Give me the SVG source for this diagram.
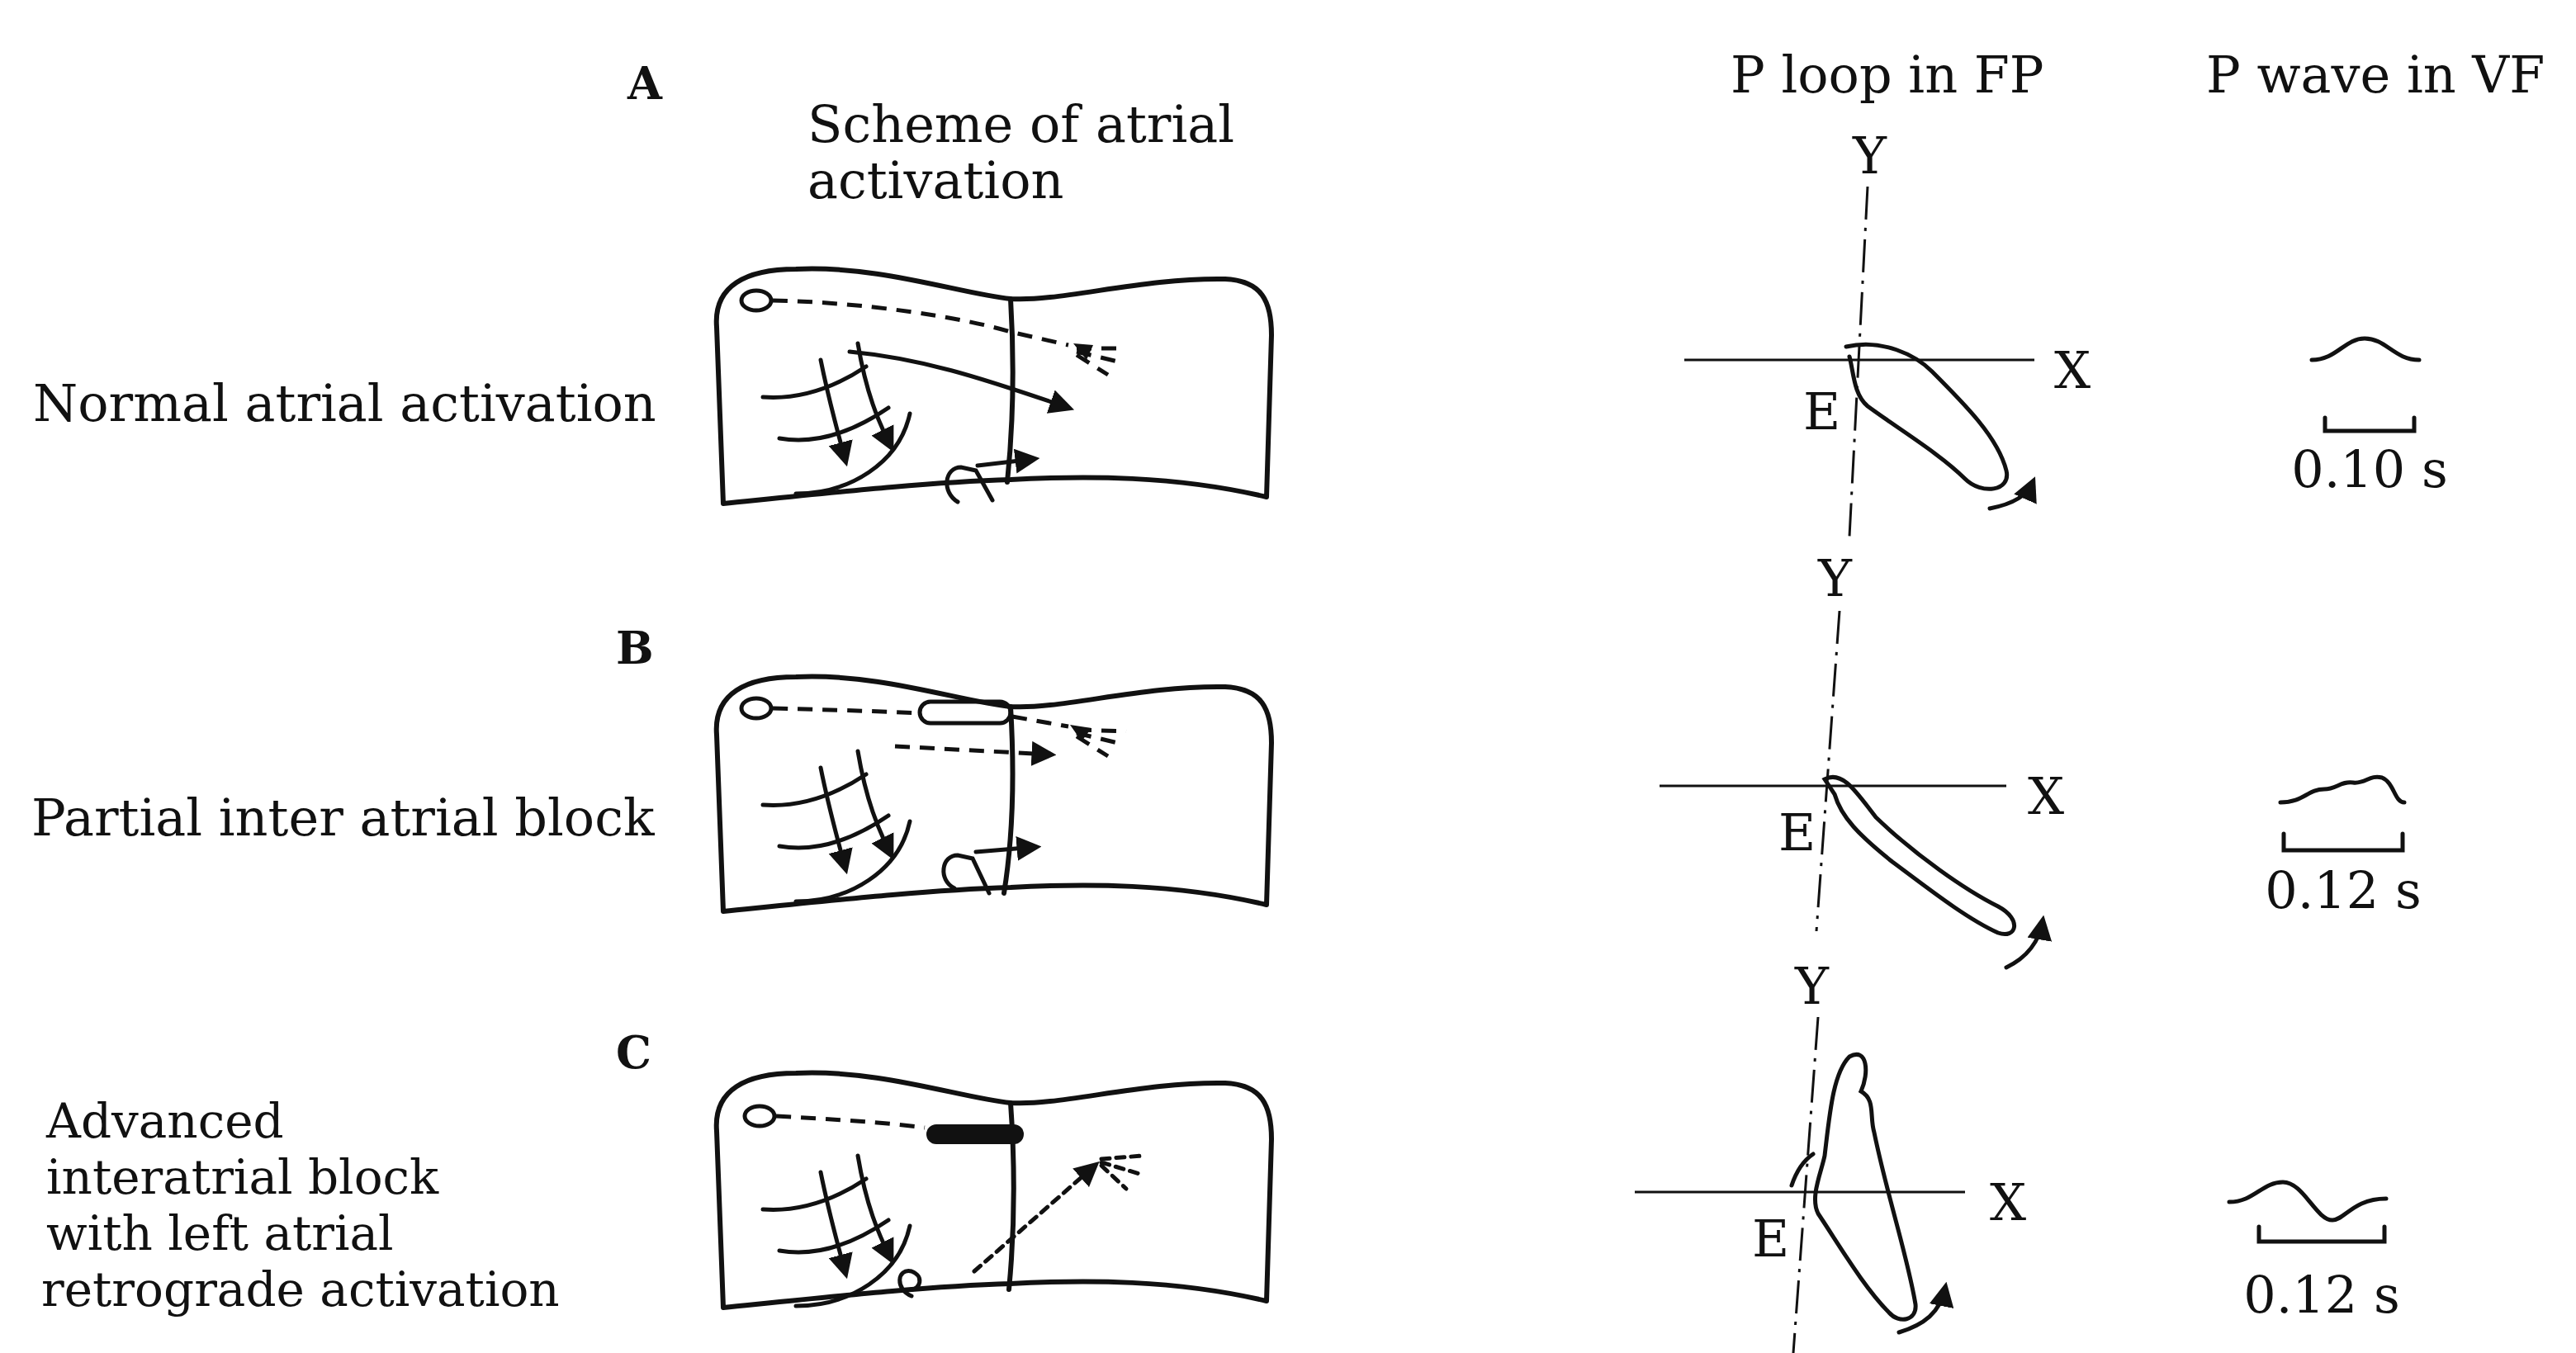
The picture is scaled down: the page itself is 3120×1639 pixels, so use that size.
<svg xmlns="http://www.w3.org/2000/svg" width="3120" height="1639" viewBox="0 0 3120 1639">
<style>
text{font-family:"DejaVu Serif","Liberation Serif",serif;fill:#111;font-size:62px}
.b{font-weight:bold;font-size:54px}
.c{font-size:58px}
.s{fill:none;stroke:#111;stroke-width:6;stroke-linecap:round;stroke-linejoin:round}
.t{fill:none;stroke:#111;stroke-width:5;stroke-linecap:round}
.d{fill:none;stroke:#111;stroke-width:5;stroke-dasharray:18 12}
.ax{fill:none;stroke:#111;stroke-width:3;stroke-dasharray:40 10 4 10}
.xa{fill:none;stroke:#111;stroke-width:3}
</style>
<defs>
<marker id="ah" markerWidth="6" markerHeight="6" refX="4.5" refY="3" orient="auto" markerUnits="strokeWidth"><path d="M0,0 L6,3 L0,6 Z" fill="#111"/></marker>
<path id="atr" d="M12,284 L4,70 C0,20 40,0 100,0 C200,-5 300,30 360,36 C420,40 520,10 620,12 C665,14 676,40 676,80 L670,276 C560,250 450,250 360,255 C260,258 150,270 12,284 Z"/>
<g id="grid" class="t">
<path d="M130,110 C140,160 150,195 160,232" marker-end="url(#ah)"/>
<path d="M175,90 C185,150 200,185 215,215" marker-end="url(#ah)"/>
<path d="M60,155 C100,158 140,148 185,118"/>
<path d="M80,205 C120,212 165,200 212,168"/>
<path d="M100,272 C165,272 225,235 238,175"/>
</g>
</defs>
<text class="b" x="760" y="120">A</text>
<text x="978" y="172">Scheme of atrial</text>
<text x="978" y="240">activation</text>
<text x="40" y="510">Normal atrial activation</text>
<text class="b" x="746" y="804">B</text>
<text x="38" y="1012">Partial inter atrial block</text>
<text class="b" x="746" y="1294">C</text>
<text class="c" x="56" y="1378">Advanced</text>
<text class="c" x="56" y="1446">interatrial block</text>
<text class="c" x="56" y="1514">with left atrial</text>
<text class="c" x="50" y="1582">retrograde activation</text>
<text x="2096" y="112">P loop in FP</text>
<text x="2672" y="112">P wave in VF</text>

<g id="atriumA" transform="translate(864,326)">
<use href="#atr" class="s"/>
<path class="s" d="M360,36 C365,120 362,200 356,258"/>
<ellipse class="t" cx="52" cy="38" rx="18" ry="12"/>
<path class="d" d="M72,38 C180,40 300,58 360,76 L430,92"/>
<path class="d" d="M440,96 L500,96 M440,100 L490,112 M440,104 L478,128"/>
<path d="M436,90 L460,92 L452,110 Z" fill="#111"/>
<path class="t" d="M165,100 C250,108 320,130 430,168" marker-end="url(#ah)"/>
<use href="#grid"/>
<path class="t" d="M296,282 C276,270 280,240 300,240 L318,244 L338,280"/>
<path class="t" d="M320,238 L388,230" marker-end="url(#ah)"/>
</g>
<g id="atriumB" transform="translate(864,820)">
<use href="#atr" class="s"/>
<path class="s" d="M360,36 C365,120 362,200 352,262"/>
<ellipse class="t" cx="52" cy="38" rx="18" ry="12"/>
<path class="d" d="M72,38 C150,40 210,42 250,44"/>
<rect class="t" x="250" y="30" width="110" height="26" rx="13"/>
<path class="d" d="M362,48 L430,60"/>
<path class="d" d="M440,64 L500,66 M440,68 L490,80 M440,72 L478,96"/>
<path d="M432,58 L458,62 L446,78 Z" fill="#111"/>
<path class="d" d="M220,84 L408,94" marker-end="url(#ah)"/>
<use href="#grid"/>
<path class="t" d="M292,256 C272,246 276,216 296,216 L314,220 L334,262"/>
<path class="t" d="M318,212 L390,206" marker-end="url(#ah)"/>
</g>
<g id="atriumC" transform="translate(864,1300)">
<use href="#atr" class="s"/>
<path class="s" d="M360,36 C366,120 364,200 358,262"/>
<ellipse class="t" cx="56" cy="52" rx="18" ry="12"/>
<path class="d" d="M76,52 C150,56 210,60 256,66"/>
<rect x="258" y="62" width="118" height="24" rx="12" fill="#111"/>
<path class="t" stroke-dasharray="10 8" d="M316,240 L462,112" marker-end="url(#ah)"/>
<path class="t" stroke-dasharray="10 8" d="M470,104 L520,100 M470,108 L516,122 M470,112 L500,140"/>
<use href="#grid" transform="translate(0,10)"/>
<path class="t" d="M240,270 C220,262 222,236 240,240 C256,246 250,262 240,262"/>
</g>

<g id="loopA">
<text x="2244" y="210" font-size="54">Y</text>
<path class="ax" d="M2262,226 L2240,650"/>
<path class="xa" d="M2040,436 L2464,436"/>
<text x="2488" y="470">X</text>
<text x="2184" y="520">E</text>
<path class="t" d="M2236,420 C2280,410 2320,430 2340,450 C2380,490 2420,530 2430,570 C2436,595 2400,600 2380,580 C2350,550 2300,520 2262,492 C2245,478 2245,450 2240,432"/>
<path class="t" d="M2410,616 C2440,610 2455,600 2462,584" marker-end="url(#ah)"/>
</g>
<g id="loopB">
<text x="2202" y="722" font-size="54">Y</text>
<path class="ax" d="M2228,740 L2200,1128"/>
<path class="xa" d="M2010,952 L2430,952"/>
<text x="2456" y="986">X</text>
<text x="2154" y="1030">E</text>
<path class="t" d="M2210,944 C2232,932 2250,962 2272,990 C2320,1036 2380,1078 2420,1098 C2450,1114 2442,1138 2420,1130 C2380,1112 2330,1072 2292,1044 C2252,1012 2230,990 2222,962 Z"/>
<path class="t" d="M2430,1172 C2455,1160 2470,1140 2474,1116" marker-end="url(#ah)"/>
</g>
<g id="loopC">
<text x="2174" y="1216" font-size="54">Y</text>
<path class="ax" d="M2202,1232 L2172,1639"/>
<path class="xa" d="M1980,1444 L2380,1444"/>
<text x="2410" y="1478">X</text>
<text x="2122" y="1522">E</text>
<path class="t" d="M2240,1280 C2262,1268 2264,1300 2254,1322 C2272,1332 2264,1352 2270,1372 C2286,1450 2310,1520 2320,1580 C2322,1600 2300,1604 2288,1590 C2258,1560 2230,1512 2202,1470 C2192,1450 2206,1420 2210,1400 C2216,1350 2220,1300 2240,1280 Z"/>
<path class="t" d="M2170,1436 C2176,1418 2184,1406 2196,1398"/>
<path class="t" d="M2300,1614 C2330,1605 2350,1590 2356,1560" marker-end="url(#ah)"/>
</g>
<g id="waveA">
<path class="t" d="M2800,436 C2830,436 2840,410 2864,410 C2890,410 2900,436 2930,436"/>
<path class="t" d="M2816,506 L2816,522 L2924,522 L2924,506"/>
<text x="2870" y="590" text-anchor="middle">0.10 s</text>
</g>
<g id="waveB">
<path class="t" d="M2762,972 C2790,972 2795,956 2815,956 C2830,956 2835,946 2850,948 C2865,950 2870,938 2885,942 C2900,948 2900,972 2912,972"/>
<path class="t" d="M2766,1010 L2766,1030 L2910,1030 L2910,1010"/>
<text x="2838" y="1100" text-anchor="middle">0.12 s</text>
</g>
<g id="waveC">
<path class="t" d="M2700,1456 C2730,1456 2740,1432 2765,1432 C2790,1432 2805,1478 2825,1478 C2840,1478 2850,1452 2890,1452"/>
<path class="t" d="M2736,1486 L2736,1504 L2888,1504 L2888,1486"/>
<text x="2812" y="1590" text-anchor="middle">0.12 s</text>
</g>
</svg>
